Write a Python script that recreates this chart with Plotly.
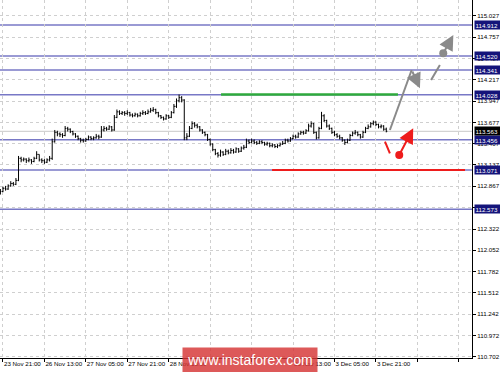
import plotly.graph_objects as go

# ---------------- data ----------------
x_tick_idx = [1, 17, 33, 49, 65, 81, 97, 113, 129, 145, 161, 177]
# the two labels fully hidden under the watermark are left blank
x_tick_text = ["23 Nov 21:00", "26 Nov 13:00", "27 Nov 05:00", "27 Nov 21:00",
               "28 Nov 13:00", "", "", "30 Nov 13:00",
               "3 Dec 05:00", "3 Dec 21:00", "", ""]
y_tick_vals = [115.027, 114.757, 114.487, 114.217, 113.947, 113.677, 113.407,
               113.137, 112.867, 112.597, 112.322, 112.052, 111.782, 111.512,
               111.242, 110.972, 110.702]
y_tick_text = ["115.027", "114.757", "114.487", "114.217", "113.947", "113.677", "113.407",
               "113.137", "112.867", "", "112.322", "112.052", "111.782", "111.512",
               "111.242", "110.972", "110.702"]

first_open = 112.78
closes = [112.80, 112.84, 112.83, 112.87, 112.90, 112.89, 112.94, 113.22, 113.20, 113.21,
          113.19, 113.20, 113.18, 113.22, 113.27, 113.20, 113.19, 113.17, 113.20, 113.22,
          113.43, 113.55, 113.53, 113.52, 113.51, 113.60, 113.59, 113.56, 113.53, 113.50,
          113.47, 113.45, 113.44, 113.46, 113.49, 113.47, 113.48, 113.50, 113.49, 113.58,
          113.60, 113.59, 113.62, 113.58, 113.74, 113.81, 113.79, 113.80, 113.79, 113.80,
          113.77, 113.76, 113.78, 113.76, 113.79, 113.80, 113.79, 113.81, 113.83, 113.84,
          113.80, 113.76, 113.74, 113.72, 113.76, 113.74, 113.80, 113.88, 113.95, 113.99,
          113.96, 113.48, 113.50, 113.60, 113.66, 113.64, 113.62, 113.58, 113.55, 113.52,
          113.46, 113.40, 113.33, 113.28, 113.26, 113.30, 113.27, 113.31, 113.29, 113.32,
          113.30, 113.34, 113.31, 113.35, 113.36, 113.44, 113.42, 113.44, 113.42, 113.41,
          113.43, 113.42, 113.40, 113.41, 113.38, 113.39, 113.37, 113.38, 113.40, 113.41,
          113.45, 113.44, 113.47, 113.50, 113.49, 113.53, 113.55, 113.54, 113.57, 113.63,
          113.66, 113.55, 113.48, 113.60, 113.76, 113.70, 113.63, 113.60, 113.55, 113.52,
          113.50, 113.48, 113.45, 113.42, 113.45, 113.51, 113.54, 113.55, 113.52, 113.49,
          113.55, 113.60, 113.62, 113.66, 113.68, 113.65, 113.62, 113.63, 113.59, 113.563]
highs = [112.83, 112.86, 112.87, 112.89, 112.93, 112.92, 112.97, 113.25, 113.24, 113.23,
         113.22, 113.23, 113.21, 113.24, 113.31, 113.27, 113.22, 113.21, 113.22, 113.25,
         113.47, 113.58, 113.57, 113.55, 113.54, 113.63, 113.62, 113.60, 113.57, 113.54,
         113.51, 113.48, 113.47, 113.48, 113.51, 113.50, 113.50, 113.53, 113.52, 113.63,
         113.63, 113.62, 113.64, 113.63, 113.77, 113.84, 113.83, 113.82, 113.82, 113.83,
         113.81, 113.79, 113.80, 113.79, 113.81, 113.83, 113.82, 113.84, 113.86, 113.87,
         113.85, 113.81, 113.77, 113.75, 113.78, 113.77, 113.82, 113.91, 113.98, 114.03,
         114.01, 113.97, 113.54, 113.63, 113.69, 113.68, 113.66, 113.63, 113.59, 113.56,
         113.53, 113.47, 113.41, 113.34, 113.30, 113.33, 113.31, 113.34, 113.33, 113.35,
         113.34, 113.36, 113.35, 113.37, 113.39, 113.47, 113.46, 113.47, 113.46, 113.44,
         113.45, 113.45, 113.43, 113.43, 113.42, 113.41, 113.40, 113.40, 113.42, 113.44,
         113.47, 113.47, 113.49, 113.52, 113.52, 113.55, 113.57, 113.57, 113.59, 113.66,
         113.69, 113.67, 113.56, 113.62, 113.81, 113.78, 113.71, 113.65, 113.61, 113.57,
         113.54, 113.52, 113.49, 113.46, 113.47, 113.53, 113.56, 113.58, 113.56, 113.53,
         113.57, 113.62, 113.65, 113.68, 113.70, 113.69, 113.66, 113.65, 113.64, 113.61]
lows = [112.76, 112.79, 112.81, 112.82, 112.86, 112.87, 112.88, 112.93, 113.17, 113.18,
        113.16, 113.17, 113.15, 113.17, 113.21, 113.18, 113.16, 113.15, 113.16, 113.18,
        113.20, 113.42, 113.50, 113.49, 113.48, 113.50, 113.56, 113.54, 113.51, 113.48,
        113.45, 113.42, 113.42, 113.43, 113.45, 113.45, 113.45, 113.47, 113.46, 113.48,
        113.56, 113.57, 113.58, 113.56, 113.57, 113.73, 113.77, 113.77, 113.76, 113.77,
        113.75, 113.74, 113.75, 113.74, 113.75, 113.77, 113.77, 113.78, 113.80, 113.81,
        113.78, 113.74, 113.72, 113.70, 113.71, 113.72, 113.73, 113.79, 113.86, 113.93,
        113.93, 113.45, 113.45, 113.49, 113.59, 113.61, 113.60, 113.56, 113.53, 113.50,
        113.44, 113.38, 113.31, 113.26, 113.23, 113.24, 113.25, 113.26, 113.27, 113.28,
        113.28, 113.29, 113.29, 113.30, 113.33, 113.35, 113.40, 113.41, 113.40, 113.39,
        113.40, 113.40, 113.38, 113.38, 113.36, 113.36, 113.35, 113.35, 113.37, 113.39,
        113.40, 113.42, 113.43, 113.46, 113.47, 113.48, 113.52, 113.52, 113.53, 113.56,
        113.61, 113.53, 113.46, 113.47, 113.59, 113.68, 113.61, 113.58, 113.53, 113.50,
        113.48, 113.46, 113.43, 113.39, 113.41, 113.44, 113.50, 113.52, 113.50, 113.47,
        113.48, 113.54, 113.59, 113.61, 113.64, 113.63, 113.60, 113.60, 113.57, 113.55]

level_prices = [114.912, 114.520, 114.341, 114.028, 113.456, 113.071, 112.573]
current_price = 113.563

green_seg_x = [85.2, 153.5]
green_seg_y = [114.030, 114.030]
red_seg_x = [104.9, 179.4]
red_seg_y = [113.071, 113.071]

# forecast drawings (bar index, price)
gray_leg_x = [150.4, 158.8]
gray_leg_y = [113.580, 114.341]
gray_arrow1 = (158.8, 114.341, 162.0, 114.109)   # tail x, tail y, tip x, tip y
gray_dash_x = [166.3, 169.7]
gray_dash_y = [114.214, 114.405]
gray_dot = (171.0, 114.553)
gray_arrow2 = (171.0, 114.553, 174.9, 114.786)
red_dash_x = [148.5, 150.4]
red_dash_y = [113.431, 113.284]
red_dot = (154.0, 113.262)
red_arrow = (154.0, 113.262, 159.4, 113.601)

# ---------------- figure ----------------
opens = [first_open] + closes[:-1]
bar_idx = list(range(len(closes)))

GRAY = "#8a8a8a"
RED = "#ee1c1c"
LEVEL = "#7878c6"
FONT = "Liberation Sans"

fig = go.Figure()
fig.add_trace(go.Ohlc(x=bar_idx, open=opens, high=highs, low=lows, close=closes,
                      increasing_line_color="black", decreasing_line_color="black",
                      line_width=1, tickwidth=0.4, hoverinfo="skip", showlegend=False))

fig.add_trace(go.Scatter(x=green_seg_x, y=green_seg_y, mode="lines",
                         line=dict(color="#2eaa3c", width=2.5), showlegend=False, hoverinfo="skip"))
fig.add_trace(go.Scatter(x=red_seg_x, y=red_seg_y, mode="lines",
                         line=dict(color=RED, width=2), showlegend=False, hoverinfo="skip"))
fig.add_trace(go.Scatter(x=gray_leg_x, y=gray_leg_y, mode="lines",
                         line=dict(color=GRAY, width=2), showlegend=False, hoverinfo="skip"))
fig.add_trace(go.Scatter(x=gray_dash_x, y=gray_dash_y, mode="lines",
                         line=dict(color=GRAY, width=2), showlegend=False, hoverinfo="skip"))
fig.add_trace(go.Scatter(x=red_dash_x, y=red_dash_y, mode="lines",
                         line=dict(color=RED, width=2), showlegend=False, hoverinfo="skip"))
fig.add_trace(go.Scatter(x=[gray_dot[0]], y=[gray_dot[1]], mode="markers",
                         marker=dict(color=GRAY, size=8), showlegend=False, hoverinfo="skip"))
fig.add_trace(go.Scatter(x=[red_dot[0]], y=[red_dot[1]], mode="markers",
                         marker=dict(color=RED, size=8), showlegend=False, hoverinfo="skip"))

shapes = []
for p in level_prices:
    shapes.append(dict(type="line", xref="paper", x0=0, x1=1, yref="y", y0=p, y1=p,
                       line=dict(color=LEVEL, width=1.5), layer="below"))
shapes.append(dict(type="line", xref="paper", x0=0, x1=1, yref="y",
                   y0=current_price, y1=current_price,
                   line=dict(color="#c8c8c8", width=1), layer="below"))

annotations = []
for p in level_prices:
    annotations.append(dict(x=1, xref="paper", y=p, yref="y", text=f"{p:.3f}",
                            xanchor="left", xshift=2, showarrow=False, bgcolor="#14147a",
                            font=dict(color="white", size=6.2, family=FONT),
                            width=25, height=7, borderpad=0.5, align="left"))
annotations.append(dict(x=1, xref="paper", y=current_price, yref="y", text=f"{current_price:.3f}",
                        xanchor="left", xshift=2, showarrow=False, bgcolor="black",
                        font=dict(color="white", size=6.2, family=FONT),
                        width=25, height=7, borderpad=0.5, align="left"))
for (tx, ty, hx, hy), col in [(gray_arrow1, GRAY), (gray_arrow2, GRAY), (red_arrow, RED)]:
    annotations.append(dict(x=hx, y=hy, xref="x", yref="y", ax=tx, ay=ty, axref="x", ayref="y",
                            text="", showarrow=True, arrowhead=2, arrowsize=1.5,
                            arrowwidth=2, arrowcolor=col, standoff=0, startstandoff=0))
# watermark (box + text in one annotation so it sits above the axis labels)
annotations.append(dict(x=250 / 472, y=(358 - 360) / 358, xref="paper", yref="paper",
                        xanchor="center", yanchor="middle",
                        text="www.instaforex.com", showarrow=False,
                        bgcolor="rgba(214,52,52,0.82)", width=134, height=24, borderpad=0,
                        font=dict(color="white", size=14, family=FONT)))

fig.update_layout(
    width=500, height=372,
    margin=dict(l=0, r=28, t=0, b=14, autoexpand=False),
    paper_bgcolor="white", plot_bgcolor="white",
    shapes=shapes, annotations=annotations,
    showlegend=False,
    xaxis=dict(range=[-0.15, 182.1], tickmode="array", tickvals=x_tick_idx, ticktext=x_tick_text,
               ticks="outside", ticklen=3, tickcolor="black", ticklabelposition="outside right",
               tickangle=0, automargin=False,
               tickfont=dict(size=6.2, color="black", family=FONT),
               showgrid=True, gridcolor="#cfcfcf", griddash="dot", gridwidth=1,
               showline=True, linecolor="black", linewidth=1, zeroline=False,
               rangeslider=dict(visible=False), fixedrange=True),
    yaxis=dict(range=[110.685, 115.230], side="right", tickmode="array", tickvals=y_tick_vals,
               ticktext=y_tick_text,
               ticks="outside", ticklen=3, tickcolor="black", automargin=False,
               tickfont=dict(size=6.2, color="black", family=FONT),
               showgrid=True, gridcolor="#cfcfcf", griddash="dot", gridwidth=1,
               showline=True, linecolor="black", linewidth=1, zeroline=False, fixedrange=True),
)

fig.write_html("out.html")
